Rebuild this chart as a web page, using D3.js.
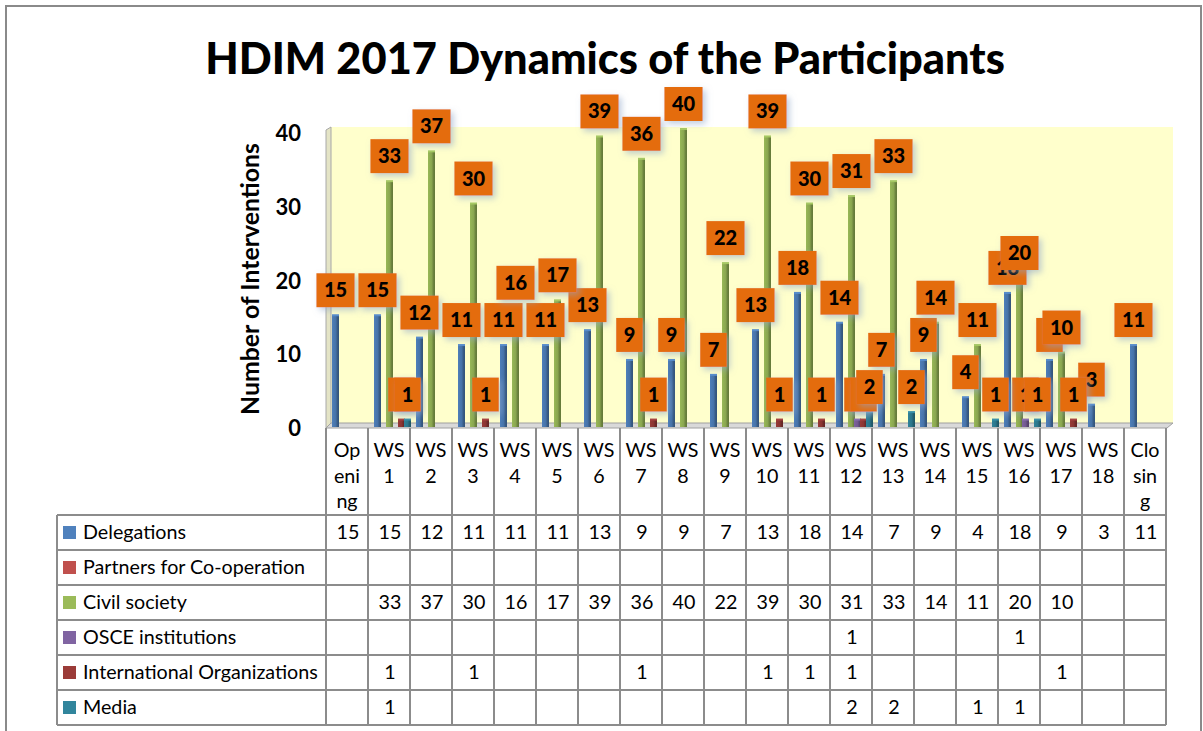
<!DOCTYPE html>
<html>
<head>
<meta charset="utf-8">
<script src="https://cdn.jsdelivr.net/npm/d3@7/dist/d3.min.js"></script>
<style>
  body { margin: 0; background: #fff; }
  text { font-family: Lato, "Open Sans", sans-serif; }
</style>
</head>
<body>
<script>
var width = 1203, height = 731;

// ---- data ----
var categories = ["Opening","WS 1","WS 2","WS 3","WS 4","WS 5","WS 6","WS 7","WS 8","WS 9",
                  "WS 10","WS 11","WS 12","WS 13","WS 14","WS 15","WS 16","WS 17","WS 18","Closing"];
var headerLabels = ["Op|eni|ng","WS|1","WS|2","WS|3","WS|4","WS|5","WS|6","WS|7","WS|8","WS|9",
                    "WS|10","WS|11","WS|12","WS|13","WS|14","WS|15","WS|16","WS|17","WS|18","Clo|sin|g"];
var seriesNames = ["Delegations","Partners for Co-operation","Civil society",
                   "OSCE institutions","International Organizations","Media"];
var seriesColors = ["#4F81BD","#C0504D","#9BBB59","#8064A2","#9B3B38","#31859C"];

var delegations = [15,15,12,11,11,11,13,9,9,7,13,18,14,7,9,4,18,9,3,11];
var partners    = [null,null,null,null,null,null,null,null,null,null,null,null,null,null,null,null,null,null,null,null];
var civil       = [null,33,37,30,16,17,39,36,40,22,39,30,31,33,14,11,20,10,null,null];
var osce        = [null,null,null,null,null,null,null,null,null,null,null,null,1,null,null,null,1,null,null,null];
var intOrgs     = [null,1,null,1,null,null,null,1,null,null,1,1,1,null,null,null,null,1,null,null];
var media       = [null,1,null,null,null,null,null,null,null,null,null,null,2,2,null,1,1,null,null,null];
var seriesValues = [delegations, partners, civil, osce, intOrgs, media];
var yTicks = [0,10,20,30,40];

// ---- scales ----
var x = d3.scaleBand().domain(categories).range([326, 1166]);
var xs = d3.scaleBand().domain(seriesNames).range([6.5, 42.5]);
var y = d3.scaleLinear().domain([0, 40]).range([427, 129]);
var yFront = d3.scaleLinear().domain([0, 40]).range([428.5, 133.5]);

var svg = d3.select("body").append("svg")
    .attr("width", width)
    .attr("height", height);

var defs = svg.append("defs");
var f = defs.append("filter").attr("id", "lblShadow")
    .attr("x", "-40%").attr("y", "-40%").attr("width", "180%").attr("height", "180%");
f.append("feDropShadow").attr("dx", 3).attr("dy", 3).attr("stdDeviation", 3)
    .attr("flood-color", "#8FA6C8").attr("flood-opacity", 0.55);

seriesColors.forEach(function(c, i){
    var g = defs.append("linearGradient").attr("id", "bar" + i)
        .attr("x1", "0%").attr("x2", "100%").attr("y1", "0%").attr("y2", "0%");
    var base = d3.color(c).darker(0.35);
    g.append("stop").attr("offset", "0%").attr("stop-color", base.brighter(0.3));
    g.append("stop").attr("offset", "55%").attr("stop-color", base);
    g.append("stop").attr("offset", "75%").attr("stop-color", base.darker(0.6));
    g.append("stop").attr("offset", "100%").attr("stop-color", base.darker(0.9));
});

// outer frame
svg.append("rect")
    .attr("x", 6).attr("y", 6).attr("width", 1195).attr("height", 760)
    .attr("fill", "none").attr("stroke", "#8A8A8A").attr("stroke-width", 2);

// fit helper
function fitFont(sel, target, base){
    sel.style("font-size", base + "px");
    var w = sel.node().getComputedTextLength();
    sel.style("font-size", (base * target / w) + "px");
}

// title
var title = svg.append("text")
    .attr("x", 605).attr("y", 74)
    .attr("text-anchor", "middle")
    .style("font-weight", "900")
    .attr("fill", "#000")
    .text("HDIM 2017 Dynamics of the Participants");
fitFont(title, 800, 38);

// ---- plot walls ----
svg.append("rect")
    .attr("x", 331).attr("y", 127).attr("width", 842).attr("height", 296)
    .attr("fill", "#FFFFCC");
svg.append("polygon")
    .attr("points", "326,428 326,130 331,127 331,423")
    .attr("fill", "#E4E4C6").attr("stroke", "#A8A8A8").attr("stroke-width", 1);
svg.append("polygon")
    .attr("points", "326,428 1167,428 1173,423 331,423")
    .attr("fill", "#D9D9D9").attr("stroke", "#A0A0A0").attr("stroke-width", 1);

// y axis labels
var yAxis = d3.axisLeft(yFront).tickValues(yTicks).tickSize(0).tickPadding(0);
var ya = svg.append("g").attr("transform", "translate(301,0)").call(yAxis);
ya.select(".domain").remove();
ya.selectAll("text")
    .style("font-family", "Lato, sans-serif")
    .style("font-size", "22px")
    .style("font-weight", "bold")
    .attr("fill", "#000");

var yTitle = svg.append("text")
    .attr("transform", "translate(259,279) rotate(-90)")
    .attr("text-anchor", "middle")
    .style("font-weight", "bold")
    .attr("fill", "#000")
    .text("Number of Interventions");
fitFont(yTitle, 272, 21);

// ---- bars ----
var barW = 7;
var bars = svg.append("g");
seriesValues.forEach(function(vals, si){
    vals.forEach(function(v, ci){
        if (v == null) return;
        var cx = x(categories[ci]) + xs(seriesNames[si]) + xs.bandwidth() / 2;
        bars.append("rect")
            .attr("x", cx - barW / 2)
            .attr("y", y(v))
            .attr("width", barW)
            .attr("height", y(0) - y(v))
            .attr("fill", "url(#bar" + si + ")");
        bars.append("rect")
            .attr("x", cx - barW / 2)
            .attr("y", y(v) - 1)
            .attr("width", barW)
            .attr("height", 2)
            .attr("fill", d3.color(seriesColors[si]).brighter(0.2));
    });
});

// ---- data labels ----
var labels = svg.append("g");
seriesValues.forEach(function(vals, si){
    vals.forEach(function(v, ci){
        if (v == null) return;
        var cx = x(categories[ci]) + xs(seriesNames[si]) + xs.bandwidth() / 2;
        var g = labels.append("g");
        var t = g.append("text")
            .attr("x", cx).attr("y", y(v) - 8 - 10)
            .attr("text-anchor", "middle")
            .style("font-size", "20px")
            .style("font-weight", "900")
            .attr("fill", "#000")
            .text(v);
        var tw = t.node().getComputedTextLength();
        var bw = tw + 15;
        g.insert("rect", "text")
            .attr("x", cx - bw / 2)
            .attr("y", y(v) - 8 - 34)
            .attr("width", bw)
            .attr("height", 34)
            .attr("fill", "#E46C0A")
            .attr("filter", "url(#lblShadow)");
    });
});

// ---- data table ----
var rowTop = 515, rowH = 35, legendLeft = 57;
var table = svg.append("g");
var lineColor = "#8C8C8C";

for (var r = 0; r <= seriesNames.length; r++) {
    table.append("line")
        .attr("x1", legendLeft).attr("x2", 1166)
        .attr("y1", rowTop + r * rowH).attr("y2", rowTop + r * rowH)
        .attr("stroke", lineColor).attr("stroke-width", 2);
}
table.append("line")
    .attr("x1", legendLeft).attr("x2", legendLeft)
    .attr("y1", rowTop).attr("y2", rowTop + seriesNames.length * rowH)
    .attr("stroke", lineColor).attr("stroke-width", 2);
var bounds = categories.map(function(c){ return x(c); }).concat([x.range()[1]]);
bounds.forEach(function(bx){
    table.append("line")
        .attr("x1", bx).attr("x2", bx)
        .attr("y1", 428).attr("y2", rowTop + seriesNames.length * rowH)
        .attr("stroke", lineColor).attr("stroke-width", 2);
});

// header labels
var probe = svg.append("text").text("International Organizations");
fitFont(probe, 235, 18);
var tableFont = parseFloat(probe.style("font-size"));
probe.remove();

categories.forEach(function(c, ci){
    var parts = headerLabels[ci].split("|");
    parts.forEach(function(p, li){
        table.append("text")
            .attr("x", x(c) + x.bandwidth() / 2)
            .attr("y", 457 + li * 25.5)
            .attr("text-anchor", "middle")
            .style("font-size", tableFont + "px")
            .attr("fill", "#000")
            .text(p);
    });
});

seriesNames.forEach(function(s, si){
    var top = rowTop + si * rowH;
    table.append("rect")
        .attr("x", 63).attr("y", top + 11).attr("width", 13).attr("height", 13)
        .attr("fill", seriesColors[si]);
    table.append("text")
        .attr("x", 83).attr("y", top + 24)
        .style("font-size", tableFont + "px")
        .attr("fill", "#000")
        .text(s);
    seriesValues[si].forEach(function(v, ci){
        if (v == null) return;
        table.append("text")
            .attr("x", x(categories[ci]) + x.bandwidth() / 2 + 1)
            .attr("y", top + 24)
            .attr("text-anchor", "middle")
            .style("font-size", tableFont + "px")
            .attr("fill", "#000")
            .text(v);
    });
});
</script>
</body>
</html>
